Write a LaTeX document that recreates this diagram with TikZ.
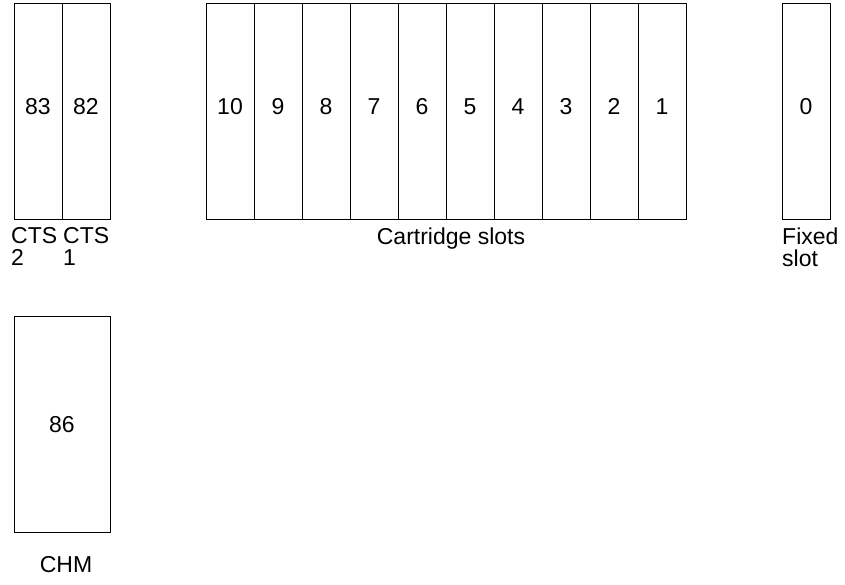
\documentclass[tikz,border=0pt]{standalone}
\usepackage{fontspec}
\setmainfont{Liberation Sans}
\usetikzlibrary{positioning}

\begin{document}
\begin{tikzpicture}[x=1pt, y=-1pt,
    every node/.style={font=\fontsize{23}{22}\selectfont},
    slot/.style={draw, line width=1pt, outer sep=0pt, inner sep=0pt, minimum width=48pt, minimum height=216pt, text height=16.5pt, text depth=9.5pt},
    lbl/.style={inner sep=0pt, align=left}]
    \useasboundingbox (0,0) rectangle (845,585);
    % tape slots on the left
    \node[slot] (cts2) at (38,111.5) {83};
    \node[slot, right=0pt of cts2] (cts1) {82};
    % cartridge slots
    \node[slot] (s10) at (230,111.5) {10};
    \node[slot, right=0pt of s10] (s9) {9};
    \node[slot, right=0pt of s9] (s8) {8};
    \node[slot, right=0pt of s8] (s7) {7};
    \node[slot, right=0pt of s7] (s6) {6};
    \node[slot, right=0pt of s6] (s5) {5};
    \node[slot, right=0pt of s5] (s4) {4};
    \node[slot, right=0pt of s4] (s3) {3};
    \node[slot, right=0pt of s3] (s2) {2};
    \node[slot, right=0pt of s2] (s1) {1};
    \node[slot] (fixed) at (806,111.5) {0};
    \node[slot, minimum width=96pt, text depth=0pt] (chm) at (62,424) {86};
    % captions
    \node[lbl, below=8pt of cts2.south west, anchor=north west, xshift=-3pt] (lcts2) {CTS\\2};
    \node[lbl, below=8pt of cts1.south west, anchor=north west, xshift=1pt] (lcts1) {CTS\\1};
    \node[lbl, below=8pt of s5.south west, xshift=5pt] (lcart) {Cartridge slots};
    \node[lbl, below=8pt of fixed.south west, anchor=north west] (lfixed) {Fixed\\slot};
    \node[lbl, below=24pt of chm, xshift=4pt] (lchm) {CHM};
\end{tikzpicture}
\end{document}
